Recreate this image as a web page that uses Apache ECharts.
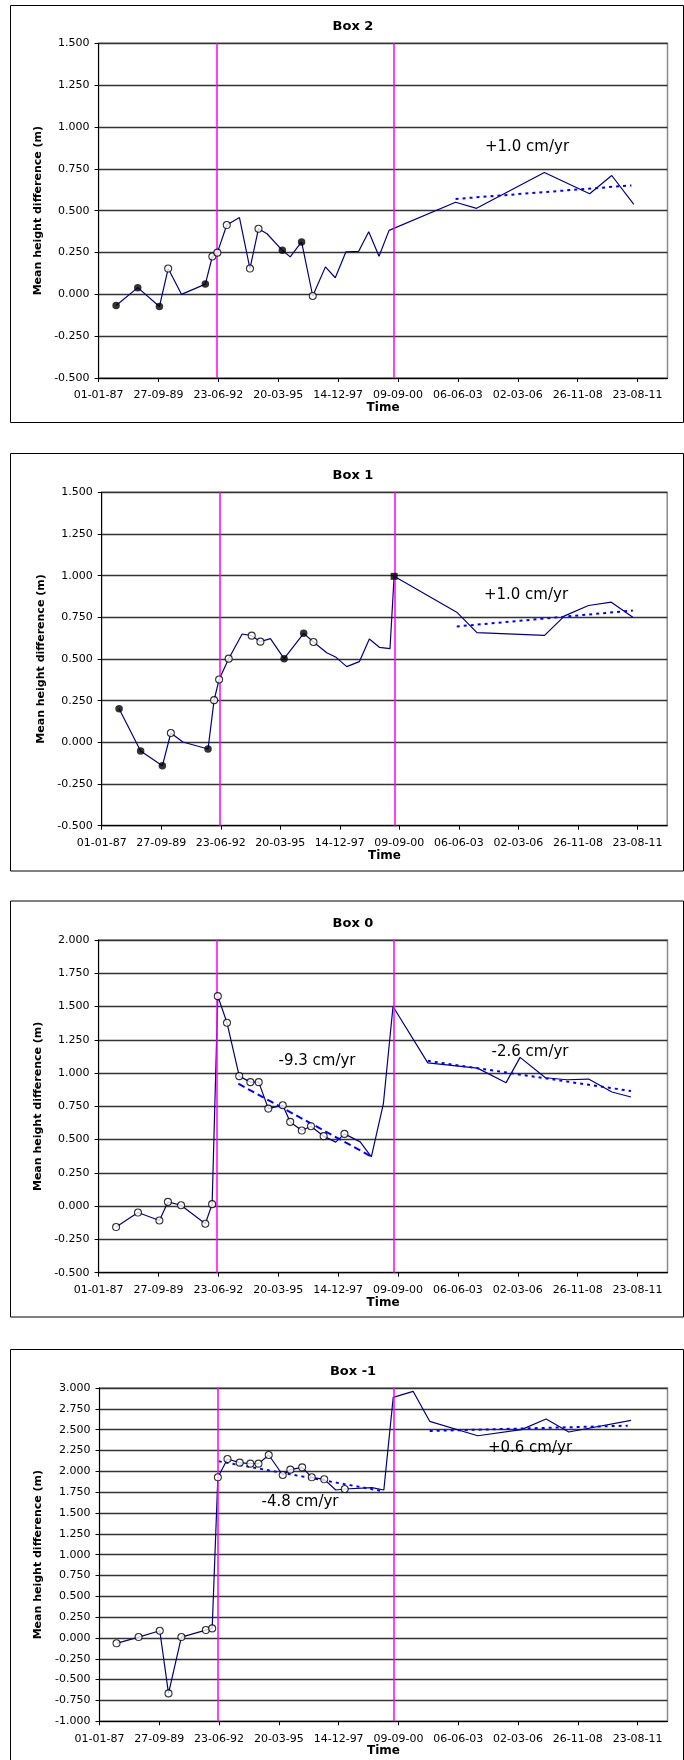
<!DOCTYPE html>
<html>
<head>
<meta charset="utf-8">
<script src="https://cdn.jsdelivr.net/npm/echarts@6/dist/echarts.min.js"></script>
<style>
html,body{margin:0;padding:0;background:#fff;}
#c{width:684px;height:1760px;}
</style>
</head>
<body>
<div id="c"></div>
<script>
// ---------------- DATA ----------------
const xTickLabels = ['01-01-87','27-09-89','23-06-92','20-03-95','14-12-97','09-09-00','06-06-03','02-03-06','26-11-08','23-08-11'];
const magentaYears = [1992.42, 2000.48];

// Box 2
const box2Years = [1987.80,1988.79,1989.78,1990.18,1990.79,1991.88,1992.20,1992.43,1992.86,1993.44,1993.92,1994.31,1994.70,1995.40,1995.76,1996.28,1996.79,1997.37,1997.82,1998.31,1998.89,1999.35,1999.82,2000.28,2003.32,2004.28,2007.38,2009.45,2010.46,2011.47];
const box2Values = [-0.067,0.040,-0.073,0.154,0.000,0.061,0.226,0.249,0.414,0.459,0.154,0.392,0.362,0.263,0.224,0.313,-0.010,0.164,0.099,0.254,0.257,0.374,0.228,0.382,0.550,0.514,0.728,0.601,0.710,0.538];
const box2Markers = ['f','f','f','o','','f','o','o','o','','o','o','','f','','f','o','','','','','','','','','','','','',''];
const box2TrendYears = [2003.32, 2011.36];
const box2TrendValues = [0.570, 0.651];

// Box 1
const box1Years = [1987.80,1988.79,1989.79,1990.18,1990.73,1991.89,1992.17,1992.40,1992.84,1993.46,1993.90,1994.30,1994.76,1995.39,1996.29,1996.74,1997.35,1997.78,1998.27,1998.85,1999.31,1999.77,2000.26,2000.45,2003.33,2004.26,2007.37,2008.29,2009.39,2010.44,2011.43];
const box1Values = [0.202,-0.052,-0.141,0.056,0.002,-0.040,0.253,0.377,0.502,0.650,0.640,0.604,0.622,0.502,0.654,0.602,0.538,0.510,0.454,0.484,0.620,0.570,0.562,0.996,0.781,0.658,0.642,0.759,0.821,0.841,0.750];
const box1Markers = ['f','f','f','o','','f','o','o','o','','o','o','','f','f','o','','','','','','','','s','','','','','','',''];
const box1TrendYears = [2003.33, 2011.43];
const box1TrendValues = [0.695, 0.791];

// Box 0
const box0Years = [1987.80,1988.80,1989.78,1990.17,1990.77,1991.88,1992.19,1992.45,1992.87,1993.43,1993.94,1994.32,1994.76,1995.42,1995.76,1996.29,1996.71,1997.29,1997.84,1998.24,1998.96,1999.47,2000.02,2000.46,2002.05,2004.32,2005.63,2006.27,2007.43,2008.41,2009.40,2010.47,2011.34];
const box0Values = [-0.157,-0.048,-0.108,0.032,0.007,-0.132,0.015,1.578,1.378,0.977,0.932,0.932,0.733,0.758,0.633,0.568,0.601,0.526,0.481,0.543,0.483,0.371,0.770,1.500,1.077,1.037,0.928,1.118,0.965,0.950,0.955,0.858,0.820];
const box0Markers = ['o','o','o','o','o','o','o','o','o','o','o','o','o','o','o','o','o','o','','o','','','','','','','','','','','','',''];
const box0Trend1Years = [1993.39, 1999.49];
const box0Trend1Values = [0.920, 0.371];
const box0Trend2Years = [2002.05, 2011.34];
const box0Trend2Values = [1.092, 0.865];

// Box -1
const boxM1Years = [1987.78,1988.79,1989.76,1990.16,1990.75,1991.87,1992.16,1992.42,1992.86,1993.42,1993.91,1994.28,1994.75,1995.39,1995.74,1996.28,1996.72,1997.29,1997.82,1998.23,1999.48,2000.02,2000.45,2001.36,2002.12,2004.32,2006.32,2007.45,2008.49,2011.34];
const boxM1Values = [-0.064,0.011,0.087,-0.665,0.011,0.095,0.115,1.928,2.148,2.104,2.092,2.092,2.196,1.956,2.020,2.048,1.928,1.904,1.776,1.788,1.804,1.776,2.888,2.960,2.600,2.427,2.500,2.628,2.472,2.612];
const boxM1Markers = ['o','o','o','o','o','o','o','o','o','o','o','o','o','o','o','o','o','o','','o','','','','','','','','','',''];
const boxM1Trend1Years = [1992.46, 2000.02];
const boxM1Trend1Values = [2.120, 1.760];
const boxM1Trend2Years = [2002.12, 2011.19];
const boxM1Trend2Values = [2.484, 2.548];

// ---------------- LAYOUT ----------------
const FONT = "'DejaVu Sans', sans-serif";
const DOT = [3, 4];
const DASH = [7, 4];

const panels = [
  { title: 'Box 2', years: box2Years, values: box2Values, markers: box2Markers,
    trends: [{ years: box2TrendYears, values: box2TrendValues, dash: DOT }],
    yMin: -0.5, yMax: 1.5,
    grid: { left: 98.6, top: 43.3, width: 568.9, height: 334.7 },
    box: { y: 5.5, h: 417 }, titleY: 27,
    notes: [{ text: '+1.0 cm/yr', x: 527, y: 147 }] },
  { title: 'Box 1', years: box1Years, values: box1Values, markers: box1Markers,
    trends: [{ years: box1TrendYears, values: box1TrendValues, dash: DOT }],
    yMin: -0.5, yMax: 1.5,
    grid: { left: 101.7, top: 492.3, width: 565.5, height: 333.4 },
    box: { y: 453.5, h: 417.5 }, titleY: 475.7,
    notes: [{ text: '+1.0 cm/yr', x: 526, y: 595 }] },
  { title: 'Box 0', years: box0Years, values: box0Values, markers: box0Markers,
    trends: [{ years: box0Trend1Years, values: box0Trend1Values, dash: DASH },
             { years: box0Trend2Years, values: box0Trend2Values, dash: DOT }],
    yMin: -0.5, yMax: 2.0,
    grid: { left: 98.6, top: 940, width: 568.9, height: 332.7 },
    box: { y: 901, h: 416 }, titleY: 924,
    notes: [{ text: '-9.3 cm/yr', x: 317, y: 1061 }, { text: '-2.6 cm/yr', x: 530, y: 1052 }] },
  { title: 'Box -1', years: boxM1Years, values: boxM1Values, markers: boxM1Markers,
    trends: [{ years: boxM1Trend1Years, values: boxM1Trend1Values, dash: DOT },
             { years: boxM1Trend2Years, values: boxM1Trend2Values, dash: DOT }],
    yMin: -1.0, yMax: 3.0,
    grid: { left: 99.5, top: 1388, width: 568, height: 333.3 },
    box: { y: 1349.5, h: 430 }, titleY: 1371.7,
    notes: [{ text: '-4.8 cm/yr', x: 300, y: 1502 }, { text: '+0.6 cm/yr', x: 530, y: 1448 }] }
];

// ---------------- BUILD ----------------
const toDays = y => (y - 1987) * 365.25;
const tickDays = xTickLabels.map((_, i) => i * 1000);

const grids = [], xAxes = [], yAxes = [], series = [], graphics = [];

panels.forEach((p, i) => {
  grids.push({
    left: p.grid.left, top: p.grid.top, width: p.grid.width, height: p.grid.height,
    show: true, borderColor: '#8a8a8a', borderWidth: 1.5, backgroundColor: 'transparent'
  });

  xAxes.push({
    type: 'value', gridIndex: i, min: 0, max: 9500, interval: 1000,
    axisLine: { show: true, onZero: false, lineStyle: { color: '#000', width: 1 } },
    axisTick: { show: true, inside: false, length: 4, customValues: tickDays, lineStyle: { color: '#000', width: 1 } },
    axisLabel: {
      customValues: tickDays, margin: 12, hideOverlap: false,
      fontFamily: FONT, fontSize: 11, color: '#000',
      formatter: v => xTickLabels[Math.round(v / 1000)] || ''
    },
    splitLine: { show: false },
    name: 'Time', nameLocation: 'middle', nameGap: 24,
    nameTextStyle: { fontFamily: FONT, fontSize: 12, fontWeight: 'bold', color: '#000' }
  });

  yAxes.push({
    type: 'value', gridIndex: i, min: p.yMin, max: p.yMax, interval: 0.25,
    axisLine: { show: true, lineStyle: { color: '#000', width: 1 } },
    axisTick: { show: true, inside: false, length: 4, lineStyle: { color: '#000', width: 1 } },
    axisLabel: { margin: 9, fontFamily: FONT, fontSize: 11, color: '#000', formatter: v => v.toFixed(3) },
    splitLine: { show: true, lineStyle: { color: '#333', width: 1.3 } },
    name: 'Mean height difference (m)', nameLocation: 'middle', nameRotate: 90, nameGap: 55,
    nameTextStyle: { fontFamily: FONT, fontSize: 11, fontWeight: 'bold', color: '#000' }
  });

  // main line with magenta reference lines
  series.push({
    type: 'line', xAxisIndex: i, yAxisIndex: i, z: 3,
    data: p.years.map((y, k) => [toDays(y), p.values[k]]),
    symbol: 'none', showSymbol: false,
    lineStyle: { color: '#000080', width: 1.2 },
    markLine: {
      silent: true, symbol: ['none', 'none'], label: { show: false },
      lineStyle: { color: '#ff00ff', width: 1.5, type: 'solid' },
      data: magentaYears.map(y => ({ xAxis: toDays(y) }))
    }
  });

  // markers
  const markerData = [];
  p.years.forEach((y, k) => {
    const m = p.markers[k];
    if (!m) return;
    const item = { value: [toDays(y), p.values[k]] };
    if (m === 'f') {
      item.symbol = 'circle'; item.symbolSize = 7.5;
      item.itemStyle = { color: '#000', borderWidth: 0 };
    } else if (m === 'o') {
      item.symbol = 'circle'; item.symbolSize = 7;
      item.itemStyle = { color: '#fff', borderColor: '#000', borderWidth: 1.1 };
    } else if (m === 's') {
      item.symbol = 'rect'; item.symbolSize = 7;
      item.itemStyle = { color: '#000', borderWidth: 0 };
    }
    markerData.push(item);
  });
  series.push({ type: 'scatter', xAxisIndex: i, yAxisIndex: i, z: 5, silent: true, data: markerData });

  // trend lines
  p.trends.forEach(t => {
    series.push({
      type: 'line', xAxisIndex: i, yAxisIndex: i, z: 4, symbol: 'none', showSymbol: false,
      data: t.years.map((y, k) => [toDays(y), t.values[k]]),
      lineStyle: { color: '#0000ff', width: 2, type: t.dash }
    });
  });

  // panel frame, title, annotations
  graphics.push({
    type: 'rect', silent: true, z: 0,
    shape: { x: 10.5, y: p.box.y, width: 673, height: p.box.h },
    style: { fill: 'none', stroke: '#000', lineWidth: 1 }
  });
  graphics.push({
    type: 'text', silent: true, x: 353, y: p.titleY,
    style: { text: p.title, font: "bold 13px 'DejaVu Sans', sans-serif", fill: '#000',
             textAlign: 'center', textVerticalAlign: 'middle', align: 'center', verticalAlign: 'middle' }
  });
  p.notes.forEach(n => {
    graphics.push({
      type: 'text', silent: true, x: n.x, y: n.y, z: 10,
      style: { text: n.text, font: "15px 'DejaVu Sans', sans-serif", fill: '#000',
               textAlign: 'center', textVerticalAlign: 'middle', align: 'center', verticalAlign: 'middle' }
    });
  });
});

const chart = echarts.init(document.getElementById('c'), null, { renderer: 'canvas' });
chart.setOption({
  animation: false,
  backgroundColor: '#fff',
  grid: grids,
  xAxis: xAxes,
  yAxis: yAxes,
  series: series,
  graphic: graphics
});
</script>
</body>
</html>
